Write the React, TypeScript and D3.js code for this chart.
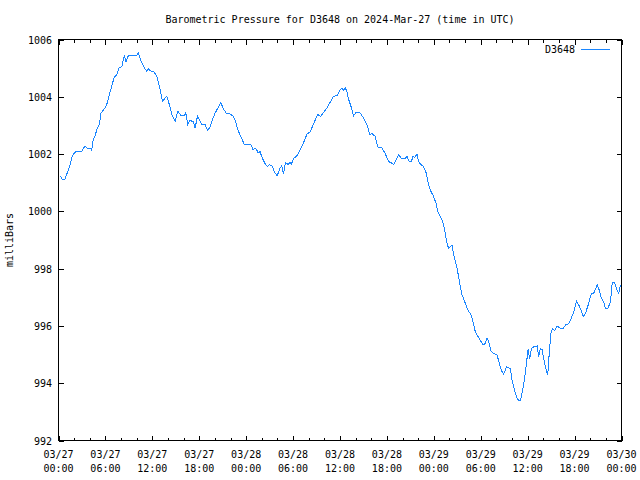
import React from "react";
import * as d3 from "d3";

const title = "Barometric Pressure for D3648 on 2024-Mar-27 (time in UTC)";
const seriesName = "D3648";
const yLabel = "milliBars";

// hours since 2024-03-27 00:00 UTC
const hours = [
  0.23, 0.49, 0.83, 1.18, 1.47, 1.77, 2.2, 2.97, 3.39, 3.69, 4.12, 4.25, 4.38, 4.67, 4.97, 5.22, 5.44, 5.95,
  6.25, 6.68, 7.1, 7.45, 7.74, 8.09, 8.42, 8.64, 8.93, 10.01, 10.21, 10.56, 10.98, 11.29, 11.49, 11.84,
  12.22, 12.57, 12.99, 13.29, 13.54, 13.85, 14.18, 14.49, 14.91, 15.26, 15.68, 16.1, 16.28, 16.54, 16.83,
  17.25, 17.47, 17.77, 18.02, 18.33, 18.75, 19.05, 19.39, 19.69, 20.03, 20.38, 20.76, 21.02, 21.44, 21.86,
  22.37, 22.59, 22.94, 23.23, 23.53, 23.78, 24.58, 24.9, 25.22, 25.54, 25.79, 25.98, 26.43, 26.72, 26.98,
  27.29, 27.71, 27.97, 28.29, 28.54, 28.77, 29.03, 29.35, 29.63, 29.76, 30.05, 30.49, 30.91, 31.33, 31.77,
  32.19, 32.58, 33.15, 33.54, 33.98, 34.33, 34.75, 35.17, 35.61, 36.03, 36.25, 36.45, 36.67, 36.89, 37.09,
  37.4, 37.73, 38.08, 38.59, 38.94, 39.23, 39.53, 39.78, 40.09, 40.51, 40.81, 41.37, 41.79, 42.21, 42.56,
  42.85, 43.16, 43.49, 43.84, 44.26, 44.57, 44.86, 45.12, 45.34, 45.54, 45.85, 46.05, 46.36, 46.69, 47.04,
  47.33, 47.64, 47.97, 48.28, 48.49, 48.83, 49.13, 49.38, 49.69, 49.89, 50.11, 50.33, 50.53, 50.88, 51.17,
  51.39, 51.61, 52.03, 52.45, 52.67, 52.97, 53.31, 53.53, 53.95, 54.3, 54.59, 54.81, 55.01, 55.32, 55.65,
  56.09, 56.38, 56.64, 56.93, 57.28, 57.79, 58.01, 58.3, 58.65, 58.85, 59.07, 59.29, 59.58, 59.84, 60.06,
  60.26, 60.48, 60.77, 61.21, 61.41, 61.63, 61.85, 62.05, 62.27, 62.49, 62.57, 62.78, 63.0, 63.21, 63.46,
  63.77, 64.19, 64.54, 64.83, 65.25, 65.56, 65.9, 66.24, 66.53, 66.84, 67.1, 67.39, 67.74, 68.12, 68.45,
  68.89, 69.15, 69.44, 69.73, 69.95, 70.25, 70.59, 70.81, 71.1, 71.45, 71.66, 71.87,
];

const pressure = [
  1001.24, 1001.12, 1001.12, 1001.39, 1001.63, 1001.94, 1002.09, 1002.09, 1002.29, 1002.21, 1002.19, 1002.12,
  1002.44, 1002.64, 1002.91, 1003.03, 1003.43, 1003.61, 1003.79, 1004.25, 1004.66, 1004.78, 1005.01, 1005.05,
  1005.44, 1005.21, 1005.44, 1005.44, 1005.53, 1005.24, 1005.01, 1004.89, 1004.97, 1004.89, 1004.87, 1004.72,
  1004.25, 1003.84, 1003.92, 1004.02, 1003.72, 1003.38, 1003.14, 1003.49, 1003.34, 1003.34, 1003.44, 1003.03,
  1003.18, 1003.12, 1002.91, 1003.32, 1003.2, 1003.03, 1003.03, 1002.83, 1002.94, 1003.2, 1003.43, 1003.61,
  1003.81, 1003.61, 1003.43, 1003.41, 1003.32, 1003.18, 1002.85, 1002.66, 1002.48, 1002.33, 1002.33, 1002.15,
  1002.21, 1002.04, 1002.09, 1001.91, 1001.66, 1001.56, 1001.63, 1001.59, 1001.33, 1001.24, 1001.49, 1001.59,
  1001.31, 1001.7, 1001.64, 1001.71, 1001.63, 1001.84, 1001.94, 1002.15, 1002.39, 1002.69, 1002.78, 1003.03,
  1003.38, 1003.32, 1003.49, 1003.61, 1003.81, 1004.02, 1004.04, 1004.25, 1004.31, 1004.23, 1004.31, 1004.19,
  1003.92, 1003.67, 1003.34, 1003.46, 1003.43, 1003.29, 1003.14, 1002.97, 1002.68, 1002.71, 1002.62, 1002.25,
  1002.21, 1002.01, 1001.74, 1001.69, 1001.63, 1001.8, 1001.98, 1001.86, 1001.83, 1001.92, 1001.74, 1001.74,
  1001.92, 1001.87, 1002.0, 1001.73, 1001.63, 1001.56, 1001.33, 1000.93, 1000.69, 1000.52, 1000.28, 999.99,
  999.82, 999.64, 999.35, 998.88, 998.71, 998.77, 998.83, 998.48, 998.13, 997.72, 997.37, 997.08, 996.79,
  996.49, 996.44, 996.2, 995.79, 995.68, 995.5, 995.33, 995.39, 995.58, 995.44, 995.13, 995.04, 994.98,
  994.69, 994.45, 994.31, 994.57, 994.51, 994.1, 993.78, 993.46, 993.4, 993.4, 993.66, 994.1, 994.69,
  995.18, 994.86, 995.21, 995.27, 995.3, 994.92, 995.21, 995.18, 994.86, 994.57, 994.34, 994.3, 995.13,
  995.79, 995.91, 995.83, 996.0, 995.91, 995.91, 996.03, 996.08, 996.26, 996.49, 996.88, 996.73, 996.55,
  996.32, 996.44, 996.73, 997.11, 997.14, 997.43, 997.25, 996.96, 996.84, 996.61, 996.61, 996.84, 997.51,
  997.51, 997.25, 997.14, 997.43,
];

const xTickHours = [0, 6, 12, 18, 24, 30, 36, 42, 48, 54, 60, 66, 72];
const xTickDates = ["03/27", "03/27", "03/27", "03/27", "03/28", "03/28", "03/28", "03/28", "03/29", "03/29", "03/29", "03/29", "03/30"];
const xTickTimes = ["00:00", "06:00", "12:00", "18:00", "00:00", "06:00", "12:00", "18:00", "00:00", "06:00", "12:00", "18:00", "00:00"];
const yTicks = [992, 994, 996, 998, 1000, 1002, 1004, 1006];

const W = 640;
const H = 480;
const L = 58.5;
const R = 621.5;
const T = 39.5;
const B = 440.5;
const FONT = "'DejaVu Sans Mono', monospace";
const LINE_COLOR = "#1a86ff";

export default function App() {
  const x = d3.scaleLinear().domain([0, 72]).range([L, R]);
  const y = d3.scaleLinear().domain([992, 1006]).range([B, T]);
  const data = hours.map((h, i) => [h, pressure[i]] as [number, number]);
  const line = d3
    .line<[number, number]>()
    .x((d) => x(d[0]))
    .y((d) => y(d[1]));

  const minor = d3.range(0, 73, 2).filter((h) => h % 6 !== 0);
  const majLen = 5;
  const minLen = 3;

  return (
    <svg
      width={W}
      height={H}
      style={{ position: "absolute", left: 0, top: 0, background: "#fff" }}
      fontFamily={FONT}
      fontSize={10}
    >
      <rect x={0} y={0} width={W} height={H} fill="#fff" />
      <text x={(L + R) / 2} y={23} textAnchor="middle" fill="#000">
        {title}
      </text>
      <g stroke="#000" strokeWidth={1} shapeRendering="crispEdges">
        {xTickHours.map((h) => (
          <g key={"mx" + h}>
            <line x1={Math.round(x(h)) + 0.5} x2={Math.round(x(h)) + 0.5} y1={B} y2={B - majLen} />
            <line x1={Math.round(x(h)) + 0.5} x2={Math.round(x(h)) + 0.5} y1={T} y2={T + majLen} />
          </g>
        ))}
        {minor.map((h) => (
          <g key={"mn" + h}>
            <line x1={Math.round(x(h)) + 0.5} x2={Math.round(x(h)) + 0.5} y1={B} y2={B - minLen} />
            <line x1={Math.round(x(h)) + 0.5} x2={Math.round(x(h)) + 0.5} y1={T} y2={T + minLen} />
          </g>
        ))}
        {yTicks.map((v) => (
          <g key={"y" + v}>
            <line x1={L} x2={L + majLen} y1={Math.round(y(v)) + 0.5} y2={Math.round(y(v)) + 0.5} />
            <line x1={R} x2={R - majLen} y1={Math.round(y(v)) + 0.5} y2={Math.round(y(v)) + 0.5} />
          </g>
        ))}
      </g>
      <path d={line(data) || ""} fill="none" stroke={LINE_COLOR} strokeWidth={1} shapeRendering="crispEdges" />
      <rect x={L} y={T} width={R - L} height={B - T} fill="none" stroke="#000" strokeWidth={1} shapeRendering="crispEdges" />
      {yTicks.map((v) => (
        <text key={"yl" + v} x={52} y={y(v) + 4} textAnchor="end" fill="#000">
          {v}
        </text>
      ))}
      {xTickHours.map((h, i) => (
        <g key={"xl" + h}>
          <text x={x(h)} y={458} textAnchor="middle" fill="#000">
            {xTickDates[i]}
          </text>
          <text x={x(h)} y={472} textAnchor="middle" fill="#000">
            {xTickTimes[i]}
          </text>
        </g>
      ))}
      <text transform={`translate(13,240) rotate(-90)`} textAnchor="middle" fill="#000">
        {yLabel}
      </text>
      <text x={575} y={53} textAnchor="end" fill="#000">
        {seriesName}
      </text>
      <line x1={581} x2={610} y1={49.5} y2={49.5} stroke={LINE_COLOR} strokeWidth={1} shapeRendering="crispEdges" />
    </svg>
  );
}
